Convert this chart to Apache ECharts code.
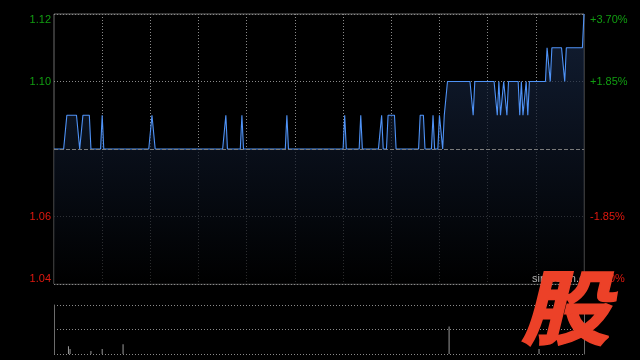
<!DOCTYPE html>
<html>
<head>
<meta charset="utf-8">
<script src="https://cdn.jsdelivr.net/npm/echarts@6/dist/echarts.min.js"></script>
<style>
html,body{margin:0;padding:0;background:#000;}
#c{width:640px;height:360px;}
</style>
</head>
<body>
<div id="c"></div>
<script>
// ---- data (HK session: 09:30-12:00, 13:00-16:00, one point per minute) ----
const prevClose = 1.08;
const priceTicks = ['1.04', '1.06', '', '1.10', '1.12'];
const pctTicks = ['-3.70%', '-1.85%', '', '+1.85%', '+3.70%'];
const tickColorsLeft = ['#e0180f', '#e0180f', '#888888', '#119e11', '#119e11'];

const price = [
  // 09:30-09:59
  1.08,1.08,1.08,1.08,1.08,1.08,1.08,1.08,1.09,1.09,1.09,1.09,1.09,1.09,1.09,1.09,1.08,1.08,1.09,1.09,1.09,1.09,1.09,1.08,1.08,1.08,1.08,1.08,1.08,1.08,
  // 10:00-10:29
  1.09,1.08,1.08,1.08,1.08,1.08,1.08,1.08,1.08,1.08,1.08,1.08,1.08,1.08,1.08,1.08,1.08,1.08,1.08,1.08,1.08,1.08,1.08,1.08,1.08,1.08,1.08,1.08,1.08,1.08,
  // 10:30-10:59
  1.08,1.09,1.09,1.08,1.08,1.08,1.08,1.08,1.08,1.08,1.08,1.08,1.08,1.08,1.08,1.08,1.08,1.08,1.08,1.08,1.08,1.08,1.08,1.08,1.08,1.08,1.08,1.08,1.08,1.08,
  // 11:00-11:29
  1.08,1.08,1.08,1.08,1.08,1.08,1.08,1.08,1.08,1.08,1.08,1.08,1.08,1.08,1.08,1.08,1.08,1.09,1.08,1.08,1.08,1.08,1.08,1.08,1.08,1.08,1.08,1.09,1.08,1.08,
  // 11:30-11:59
  1.08,1.08,1.08,1.08,1.08,1.08,1.08,1.08,1.08,1.08,1.08,1.08,1.08,1.08,1.08,1.08,1.08,1.08,1.08,1.08,1.08,1.08,1.08,1.08,1.08,1.09,1.08,1.08,1.08,1.08,
  // 13:00-13:29
  1.08,1.08,1.08,1.08,1.08,1.08,1.08,1.08,1.08,1.08,1.08,1.08,1.08,1.08,1.08,1.08,1.08,1.08,1.08,1.08,1.08,1.08,1.08,1.08,1.08,1.08,1.08,1.08,1.08,1.08,
  // 13:30-13:59
  1.08,1.09,1.08,1.08,1.08,1.08,1.08,1.08,1.08,1.08,1.08,1.09,1.08,1.08,1.08,1.08,1.08,1.08,1.08,1.08,1.08,1.08,1.08,1.08,1.09,1.08,1.08,1.08,1.09,1.09,
  // 14:00-14:29
  1.09,1.09,1.09,1.08,1.08,1.08,1.08,1.08,1.08,1.08,1.08,1.08,1.08,1.08,1.08,1.08,1.08,1.08,1.09,1.09,1.09,1.08,1.08,1.08,1.08,1.08,1.09,1.08,1.08,1.08,
  // 14:30-14:59
  1.09,1.09,1.08,1.09,1.09,1.10,1.10,1.10,1.10,1.10,1.10,1.10,1.10,1.10,1.10,1.10,1.10,1.10,1.10,1.10,1.10,1.09,1.10,1.10,1.10,1.10,1.10,1.10,1.10,1.10,
  // 15:00-15:29
  1.10,1.10,1.10,1.10,1.10,1.10,1.09,1.10,1.09,1.09,1.10,1.10,1.09,1.10,1.10,1.10,1.10,1.10,1.10,1.10,1.09,1.10,1.09,1.09,1.10,1.09,1.10,1.10,1.10,1.10,
  // 15:30-15:59
  1.10,1.10,1.10,1.10,1.10,1.10,1.10,1.11,1.11,1.10,1.11,1.11,1.11,1.11,1.11,1.11,1.11,1.11,1.10,1.11,1.11,1.11,1.11,1.11,1.11,1.11,1.11,1.11,1.11,1.11,
  // 16:00
  1.12
];

// [minute index, volume (relative units)]
const volBars = [[9, 16], [10, 10], [23, 6], [30, 10], [43, 20], [246, 56], [302, 10]];

// categories: minute labels
const times = [];
(function () {
  function fmt(m) { const h = Math.floor(m / 60), mm = m % 60; return (h < 10 ? '0' : '') + h + ':' + (mm < 10 ? '0' : '') + mm; }
  for (let m = 570; m < 720; m++) times.push(fmt(m));
  for (let m = 780; m <= 960; m++) times.push(fmt(m));
})();

const gridCol = '#6c6c6c';
const chart = echarts.init(document.getElementById('c'), null, { renderer: 'canvas' });
chart.setOption({
  backgroundColor: '#000',
  animation: false,
  textStyle: { fontFamily: 'Liberation Sans, Arial, sans-serif' },
  grid: [
    { left: 54, top: 14, width: 530, height: 270, show: true, borderColor: gridCol, borderWidth: 1, backgroundColor: 'transparent' },
    { left: 54, top: 305, width: 530, height: 49, show: false }
  ],
  xAxis: [
    {
      type: 'category', gridIndex: 0, data: times, boundaryGap: false,
      axisLine: { show: false }, axisTick: { show: false }, axisLabel: { show: false },
      splitLine: { show: true, interval: function (i) { return i % 30 === 0 && i > 0 && i < times.length - 1; },
        lineStyle: { color: '#8a8a8a', type: [1, 2], width: 1 } }
    },
    {
      type: 'category', gridIndex: 1, data: times, boundaryGap: false,
      axisLine: { show: false }, axisTick: { show: false }, axisLabel: { show: false }, splitLine: { show: false }
    }
  ],
  yAxis: [
    {
      type: 'value', gridIndex: 0, position: 'left', min: 1.04, max: 1.12, interval: 0.02,
      axisLine: { show: false }, axisTick: { show: false },
      splitLine: { show: true, lineStyle: { color: '#8a8a8a', type: [1, 2], width: 1 } },
      axisLabel: {
        margin: 3, fontSize: 11,
        formatter: function (v, i) { return priceTicks[i]; },
        color: function (v, i) { return tickColorsLeft[i]; },
        verticalAlignMinLabel: 'bottom', verticalAlignMaxLabel: 'top'
      }
    },
    {
      type: 'value', gridIndex: 0, position: 'right', min: 1.04, max: 1.12, interval: 0.02,
      axisLine: { show: false }, axisTick: { show: false }, splitLine: { show: false },
      axisLabel: {
        margin: 6, fontSize: 11,
        formatter: function (v, i) { return pctTicks[i]; },
        color: function (v, i) { return tickColorsLeft[i]; },
        verticalAlignMinLabel: 'bottom', verticalAlignMaxLabel: 'top'
      }
    },
    {
      type: 'value', gridIndex: 1, position: 'left', min: 0, max: 100, interval: 50,
      axisLine: { show: true, lineStyle: { color: gridCol } }, axisTick: { show: false }, axisLabel: { show: false },
      splitLine: { show: true, lineStyle: { color: '#8a8a8a', type: [1, 2], width: 1 } }
    },
    {
      type: 'value', gridIndex: 1, position: 'right', min: 0, max: 100, interval: 50,
      axisLine: { show: true, lineStyle: { color: gridCol } }, axisTick: { show: false }, axisLabel: { show: false },
      splitLine: { show: false }
    }
  ],
  series: [
    {
      type: 'line', xAxisIndex: 0, yAxisIndex: 0, data: price, symbol: 'none',
      lineStyle: { color: '#4f93f7', width: 1.1 },
      areaStyle: { color: new echarts.graphic.LinearGradient(0, 0, 0, 1, [
        { offset: 0, color: '#1a2b4a' }, { offset: 1, color: '#000000' }
      ]) },
      markLine: {
        silent: true, symbol: 'none', label: { show: false },
        lineStyle: { color: '#7a7a7a', type: [4, 2], width: 1 },
        data: [{ yAxis: prevClose }]
      }
    },
    {
      type: 'bar', xAxisIndex: 1, yAxisIndex: 2, data: volBars, barWidth: 1,
      itemStyle: { color: '#9a9a9a' }
    }
  ],
  graphic: [
    { type: 'text', left: 532, top: 273, z: 50,
      style: { text: 'sina.com.cn', fill: '#b0b0b0', font: '11px Liberation Sans, Arial, sans-serif' } },
    { type: 'text', x: 573, y: 307, skewX: -0.24, scaleX: 1.1, z: 100,
      style: { text: '股', fill: '#ec4128', stroke: '#ec4128', lineWidth: 2, textAlign: 'center', textVerticalAlign: 'middle',
        font: 'bold 81px "Noto Sans CJK SC", sans-serif' } }
  ]
});
</script>
</body>
</html>
